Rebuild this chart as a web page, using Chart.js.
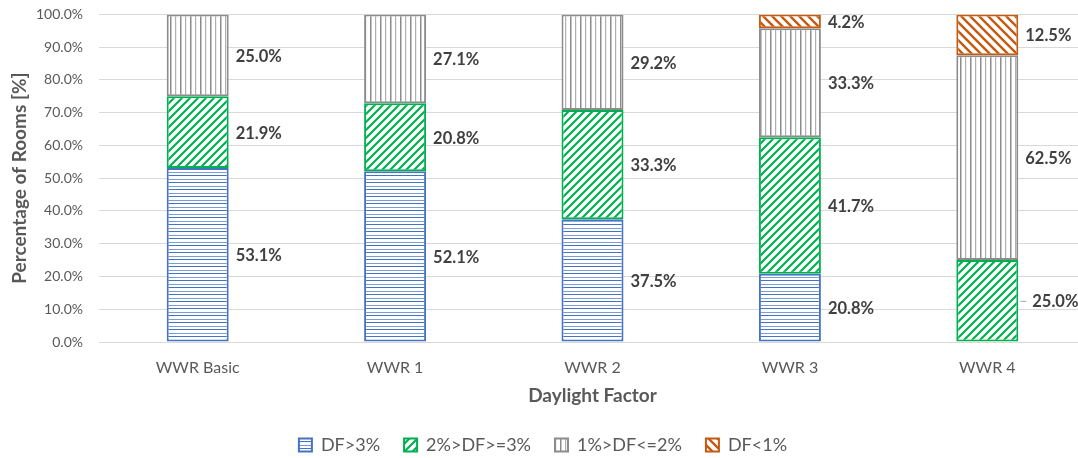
<!DOCTYPE html>
<html>
<head>
<meta charset="utf-8">
<script src="https://cdn.jsdelivr.net/npm/chart.js@4/dist/chart.umd.min.js"></script>
<style>
  html, body { margin: 0; padding: 0; background: #fff; overflow: hidden; }
  #wrap { width: 1086px; height: 458px; position: relative; }
</style>
</head>
<body>
<div id="wrap"><canvas id="barChart"></canvas></div>
<script>
const categories = ["WWR Basic", "WWR 1", "WWR 2", "WWR 3", "WWR 4"];
const seriesNames = ["DF>3%", "2%>DF>=3%", "1%>DF<=2%", "DF<1%"];
const dfAbove3 = [53.1, 52.1, 37.5, 20.8, 0];
const df2to3 = [21.9, 20.8, 33.3, 41.7, 25.0];
const df1to2 = [25.0, 27.1, 29.2, 33.3, 62.5];
const dfBelow1 = [0, 0, 0, 4.2, 12.5];
const yTicks = [0, 10, 20, 30, 40, 50, 60, 70, 80, 90, 100];

const FONT = "Lato, 'Noto Sans', sans-serif";

// hatch fills, drawn on small tiles
function makePattern(w, h, draw) {
  const c = document.createElement("canvas");
  c.width = w;
  c.height = h;
  const g = c.getContext("2d");
  g.fillStyle = "#fff";
  g.fillRect(0, 0, w, h);
  draw(g);
  return g.createPattern(c, "repeat");
}

const bluePat = makePattern(8, 7, (g) => {
  g.fillStyle = "#4472C4";
  g.fillRect(0, 0, 8, 1);
  g.fillStyle = "rgba(68,114,196,0.7)";
  g.fillRect(0, 4, 8, 1);
});

const greenPat = makePattern(8, 8, (g) => {
  g.strokeStyle = "#00B050";
  g.lineWidth = 2.2;
  g.beginPath();
  g.moveTo(-2, 10); g.lineTo(10, -2);
  g.moveTo(-2, 2); g.lineTo(2, -2);
  g.moveTo(6, 10); g.lineTo(10, 6);
  g.stroke();
});

const grayPat = makePattern(10, 4, (g) => {
  g.fillStyle = "#8c8c8c";
  g.fillRect(0, 0, 1.5, 4);
  g.fillStyle = "#b0b0b0";
  g.fillRect(5, 0, 1.2, 4);
});

const orangePat = makePattern(9, 9, (g) => {
  g.strokeStyle = "#C55A11";
  g.lineWidth = 2.4;
  g.beginPath();
  g.moveTo(-2, -2); g.lineTo(11, 11);
  g.moveTo(-2, 7); g.lineTo(2, 11);
  g.moveTo(7, -2); g.lineTo(11, 2);
  g.stroke();
});

const fills = [bluePat, greenPat, grayPat, orangePat];
const borders = ["#4472C4", "#00B050", "#8c8c8c", "#C55A11"];
const values = [dfAbove3, df2to3, df1to2, dfBelow1];

// labels that were pushed out with a leader line: [dataset, category]
const leaderLabels = [[1, 4]];

// labels to the right of each segment
const sideLabels = {
  id: "sideLabels",
  afterDatasetsDraw(chart) {
    const ctx = chart.ctx;
    ctx.save();
    ctx.font = "bold 16.5px " + FONT;
    ctx.fillStyle = "#404040";
    ctx.textBaseline = "middle";
    ctx.textAlign = "left";
    chart.data.datasets.forEach((ds, di) => {
      const meta = chart.getDatasetMeta(di);
      meta.data.forEach((bar, i) => {
        const v = ds.data[i];
        if (!v) return;
        const yMid = (bar.y + bar.base) / 2;
        let x = bar.x + bar.width / 2 + 7;
        if (leaderLabels.some(([d, c]) => d === di && c === i)) {
          ctx.strokeStyle = "#a6a6a6";
          ctx.lineWidth = 1;
          ctx.beginPath();
          ctx.moveTo(x - 5, yMid + 0.5);
          ctx.lineTo(x + 1, yMid + 0.5);
          ctx.stroke();
          x += 7;
        }
        ctx.fillText(v.toFixed(1) + "%", x, yMid + 1);
      });
    });
    ctx.restore();
  },
};

new Chart(document.getElementById("barChart"), {
  type: "bar",
  data: {
    labels: categories,
    datasets: seriesNames.map((name, i) => ({
      label: name,
      data: values[i],
      backgroundColor: fills[i],
      borderColor: borders[i],
      borderWidth: 2,
      borderSkipped: false,
      categoryPercentage: 1,
      barPercentage: 0.314,
    })),
  },
  options: {
    responsive: true,
    maintainAspectRatio: false,
    animation: false,
    layout: { padding: { left: 0, right: 0, top: 0, bottom: -6 } },
    plugins: {
      legend: {
        position: "bottom",
        labels: {
          boxWidth: 13,
          boxHeight: 13,
          padding: 24,
          color: "#595959",
          font: { family: FONT, size: 18 },
        },
      },
      tooltip: { enabled: false },
    },
    scales: {
      x: {
        stacked: true,
        afterFit: (axis) => { axis.height = 70; },
        grid: { display: false, drawTicks: false },
        border: { color: "#d9d9d9" },
        ticks: { color: "#595959", font: { family: FONT, size: 16 }, padding: 16 },
        title: {
          display: true,
          text: "Daylight Factor",
          color: "#595959",
          font: { family: FONT, size: 19, weight: "bold" },
          padding: { top: 0, bottom: 5 },
        },
      },
      y: {
        stacked: true,
        min: 0,
        max: 100,
        afterFit: (axis) => { axis.width = 99; },
        afterBuildTicks: (axis) => {
          axis.ticks = yTicks.map((v) => ({ value: v }));
        },
        grid: { color: "#d9d9d9", drawTicks: true, tickLength: 10, tickColor: "rgba(0,0,0,0)" },
        border: { display: false },
        ticks: {
          color: "#595959",
          font: { family: FONT, size: 14 },
          padding: 6,
          callback: (v) => v.toFixed(1) + "%",
        },
        title: {
          display: true,
          text: "Percentage of Rooms [%]",
          color: "#595959",
          font: { family: FONT, size: 19, weight: "bold" },
          padding: { top: 8, bottom: 6 },
        },
      },
    },
  },
  plugins: [sideLabels],
});
</script>
</body>
</html>
